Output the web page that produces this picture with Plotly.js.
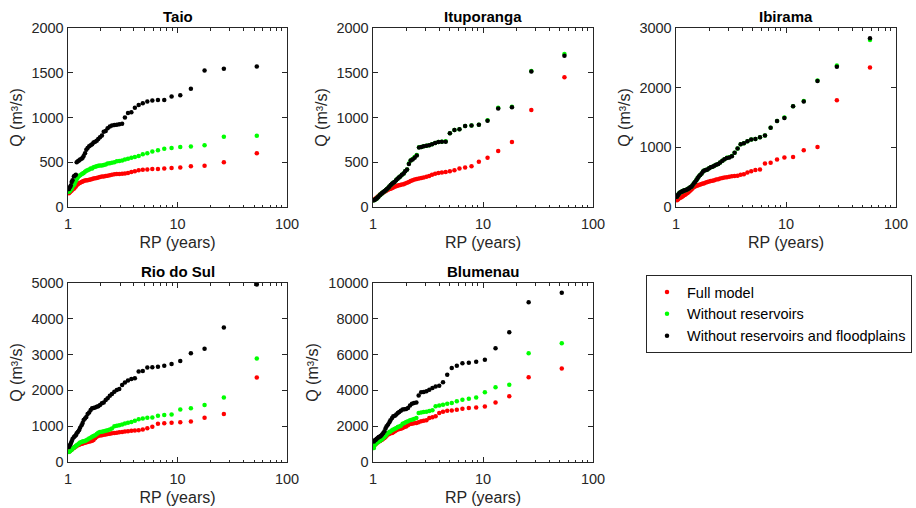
<!DOCTYPE html>
<html>
<head>
<meta charset="utf-8">
<script src="https://cdn.plot.ly/plotly-3.0.1.min.js"></script>
<style>html,body{margin:0;padding:0;background:#fff;}#chart{width:916px;height:508px;}</style>
</head>
<body>
<div id="chart"></div>
<script>
// ---- Data: return periods (years) and peak discharge Q (m3/s) ----
const seriesNames = ["Full model", "Without reservoirs", "Without reservoirs and floodplains"];
const stations = ["Taio", "Ituporanga", "Ibirama", "Rio do Sul", "Blumenau"];

const rpTaio = [53,26.5,17.67,13.25,10.6,8.83,7.57,6.63,5.89,5.3,4.82,4.42,4.08,3.79,3.53,3.31,3.12,2.94,2.79,2.65,2.52,2.41,2.3,2.21,2.12,2.04,1.96,1.89,1.83,1.77,1.71,1.66,1.61,1.56,1.51,1.47,1.43,1.39,1.36,1.33,1.29,1.26,1.23,1.2,1.18,1.15,1.13,1.1,1.08,1.06,1.04,1.02];
const taioFull = [600,500,460,455,440,435,430,425,425,420,415,410,400,390,380,375,372,370,368,365,360,355,350,345,342,340,335,330,325,320,318,312,308,305,300,298,295,290,285,280,272,265,255,245,230,215,205,195,185,175,165,155];
const taioNoRes = [795,785,690,675,670,660,650,635,620,600,590,570,560,550,540,530,520,515,510,500,495,490,485,475,470,465,463,460,455,450,445,430,430,420,410,405,395,380,375,365,355,345,330,310,290,260,245,225,205,195,180,170];
const taioNoResFp = [1570,1545,1525,1320,1250,1235,1195,1195,1190,1180,1160,1140,1110,1060,1050,1000,930,925,920,915,910,900,880,850,840,800,780,760,740,730,720,700,690,680,660,640,600,570,550,540,530,520,510,500,360,350,340,300,280,240,220,200];

const rpItuporanga = [55,27.5,18.33,13.75,11,9.17,7.86,6.88,6.11,5.5,5,4.58,4.23,3.93,3.67,3.44,3.24,3.06,2.89,2.75,2.62,2.5,2.39,2.29,2.2,2.12,2.04,1.96,1.9,1.83,1.77,1.72,1.67,1.62,1.57,1.53,1.49,1.45,1.41,1.38,1.34,1.31,1.28,1.25,1.22,1.2,1.17,1.15,1.12,1.1,1.08,1.06,1.04,1.02];
const ituFull = [1450,1085,725,625,550,505,455,440,430,410,400,390,385,380,372,360,345,338,330,325,318,312,306,300,290,280,270,262,255,250,245,242,238,233,225,218,212,205,200,195,188,180,172,165,158,150,142,132,122,112,104,95,88,78];
const ituNoRes = [1710,1520,1120,1110,970,920,910,905,870,860,825,735,730,725,715,700,690,685,680,670,668,580,560,535,520,485,420,400,375,360,340,330,315,300,280,270,260,245,230,215,200,190,180,170,160,150,140,130,115,105,95,90,80,75];
const ituNoResFp = [1690,1515,1115,1100,965,920,910,905,870,860,825,730,730,725,715,700,690,685,680,670,665,575,550,530,520,480,420,400,375,360,340,330,315,300,280,270,260,245,230,215,200,190,180,170,160,150,140,130,115,105,95,90,80,75];

const rpIbirama = [58,29,19.33,14.5,11.6,9.67,8.29,7.25,6.44,5.8,5.27,4.83,4.46,4.14,3.87,3.63,3.41,3.22,3.05,2.9,2.76,2.64,2.52,2.42,2.32,2.23,2.15,2.07,2,1.93,1.87,1.81,1.76,1.71,1.66,1.61,1.57,1.53,1.49,1.45,1.41,1.38,1.35,1.32,1.29,1.26,1.23,1.21,1.18,1.16,1.14,1.12,1.09,1.07,1.05,1.04,1.02];
const ibiFull = [2340,1790,1005,950,840,830,795,740,730,630,620,600,580,550,540,525,520,515,505,500,495,485,478,465,460,450,442,435,428,418,410,400,392,385,375,368,362,355,345,330,310,295,275,258,245,230,218,205,195,185,175,165,155,145,135,125,115];
const ibiNoRes = [2800,2370,2120,1775,1690,1500,1440,1330,1200,1170,1140,1130,1100,1070,1050,980,910,855,835,825,800,775,745,720,710,690,675,665,650,630,620,610,595,560,535,510,480,450,420,395,360,340,330,315,305,295,285,280,275,270,260,255,245,230,210,195,170];
const ibiNoResFp = [2830,2350,2110,1770,1690,1490,1440,1330,1200,1170,1140,1130,1100,1070,1050,980,910,850,830,820,800,775,745,720,710,690,675,665,650,630,620,610,595,560,535,510,480,450,420,395,360,340,330,315,305,295,285,280,275,270,260,255,245,230,210,195,170];

const rpRioDoSul = [53,26.5,17.67,13.25,10.6,8.83,7.57,6.63,5.89,5.3,4.82,4.42,4.08,3.79,3.53,3.31,3.12,2.94,2.79,2.65,2.52,2.41,2.3,2.21,2.12,2.04,1.96,1.89,1.83,1.77,1.71,1.66,1.61,1.56,1.51,1.47,1.43,1.39,1.36,1.33,1.29,1.26,1.23,1.2,1.18,1.15,1.13,1.1,1.08,1.06,1.04,1.02];
const rioFull = [2360,1340,1235,1130,1110,1095,1080,1070,985,940,910,890,880,870,860,850,840,830,820,810,800,790,780,770,760,750,740,730,705,660,615,595,580,570,560,550,540,530,520,510,495,480,470,455,430,410,390,370,350,330,310,290];
const rioNoRes = [2890,1800,1590,1500,1465,1330,1310,1290,1245,1235,1215,1195,1150,1120,1095,1075,1050,1030,1010,1000,935,905,890,870,860,845,835,815,780,750,725,705,675,655,630,610,590,580,570,560,545,520,490,470,445,420,395,375,345,325,300,280];
const rioNoResFp = [4960,3760,3160,3040,2820,2740,2690,2660,2650,2640,2540,2530,2340,2320,2280,2220,2150,2040,2010,1960,1900,1850,1780,1730,1660,1640,1590,1560,1540,1525,1510,1500,1450,1380,1340,1260,1215,1170,1090,1030,960,890,840,800,750,720,690,640,580,520,470,420];

const rpBlumenau = [52,26,17.33,13,10.4,8.67,7.43,6.5,5.78,5.2,4.73,4.33,4,3.71,3.47,3.25,3.06,2.89,2.74,2.6,2.48,2.36,2.26,2.17,2.08,2,1.93,1.86,1.79,1.73,1.68,1.63,1.58,1.53,1.49,1.44,1.41,1.37,1.33,1.3,1.27,1.24,1.21,1.18,1.16,1.13,1.11,1.08,1.06,1.04,1.02];
const bluFull = [5230,4740,3670,3330,3100,3050,3020,2980,2920,2880,2860,2810,2740,2550,2500,2460,2330,2310,2270,2220,2180,2160,2140,2120,2050,1990,1960,1900,1860,1840,1810,1770,1720,1660,1620,1600,1580,1530,1470,1400,1340,1300,1250,1210,1170,1140,1100,1060,1010,970,910];
const bluNoRes = [6630,6080,4310,4170,3890,3610,3540,3480,3390,3300,3260,3200,3150,3110,2890,2850,2810,2790,2770,2740,2460,2400,2360,2330,2270,2230,2180,2140,2030,1990,1960,1900,1860,1810,1770,1710,1680,1620,1530,1470,1400,1340,1290,1230,1190,1160,1120,1060,1000,960,780];
const bluNoResFp = [9450,8920,7250,6350,5710,5600,5550,5520,5380,5250,4870,4450,4260,4220,4130,4040,3950,3910,3890,3720,3330,3300,3260,3150,3010,2960,2950,2930,2870,2800,2740,2650,2590,2550,2460,2330,2220,2090,2000,1870,1720,1620,1530,1470,1430,1400,1360,1300,1250,1210,1150];

const yMax = [2000, 2000, 3000, 5000, 10000];
const yStep = [500, 500, 1000, 1000, 2000];

// ---- Build ----
const panels = [
  {rp: rpTaio, s: [taioFull, taioNoRes, taioNoResFp]},
  {rp: rpItuporanga, s: [ituFull, ituNoRes, ituNoResFp]},
  {rp: rpIbirama, s: [ibiFull, ibiNoRes, ibiNoResFp]},
  {rp: rpRioDoSul, s: [rioFull, rioNoRes, rioNoResFp]},
  {rp: rpBlumenau, s: [bluFull, bluNoRes, bluNoResFp]}
];
const colors = ["#ff0000", "#00ff00", "#000000"];
const W = 916, H = 508;
// plot-area boxes in pixels [left, right, top, bottom]
const boxes = [[68,287,28,207],[373,593,28,207],[676,896,28,207],[68,287,283,462],[373,593,283,462]];
const FONT = "Liberation Sans, Arial, Helvetica, sans-serif";
const INK = "#262626";

const traces = [];
panels.forEach((p, i) => {
  const sfx = i === 0 ? "" : String(i + 1);
  p.s.forEach((vals, k) => {
    traces.push({
      type: "scatter", mode: "markers",
      x: p.rp, y: vals,
      name: seriesNames[k],
      legendgroup: seriesNames[k],
      showlegend: i === 0,
      marker: {color: colors[k], size: 4.5, line: {width: 0}},
      xaxis: "x" + sfx, yaxis: "y" + sfx,
      hoverinfo: "x+y+name"
    });
  });
});

const layout = {
  width: W, height: H,
  margin: {l: 0, r: 0, t: 0, b: 0},
  paper_bgcolor: "#fff", plot_bgcolor: "#fff",
  font: {family: FONT, color: INK, size: 14},
  showlegend: true,
  legend: {
    x: 646 / W, y: 1 - 275 / H, xanchor: "left", yanchor: "top",
    bordercolor: INK, borderwidth: 1, bgcolor: "#fff",
    font: {family: FONT, size: 14.5, color: "#000"},
    tracegroupgap: 0
  },
  annotations: []
};

boxes.forEach((b, i) => {
  const sfx = i === 0 ? "" : String(i + 1);
  const common = {
    showline: true, linecolor: INK, linewidth: 1.4, mirror: "ticks",
    ticks: "inside", ticklen: 5, tickcolor: INK, tickwidth: 1,
    showgrid: false, zeroline: false,
    tickfont: {family: FONT, size: 14.5, color: INK}
  };
  layout["xaxis" + sfx] = Object.assign({}, common, {
    type: "log", range: [0, 2], dtick: 1,
    domain: [b[0] / W, b[1] / W],
    anchor: "y" + sfx,
    ticklabelstandoff: 3,
    minor: {ticks: "inside", ticklen: 2.5, tickcolor: INK, showgrid: false},
    title: {text: "RP (years)", font: {family: FONT, size: 16, color: INK}, standoff: 6}
  });
  layout["yaxis" + sfx] = Object.assign({}, common, {
    range: [0, yMax[i]], dtick: yStep[i], tickformat: "d",
    domain: [1 - b[3] / H, 1 - b[2] / H],
    anchor: "x" + sfx,
    title: {text: "Q (m³/s)", font: {family: FONT, size: 16, color: INK}, standoff: 5}
  });
  layout.annotations.push({
    text: "<b>" + stations[i] + "</b>",
    xref: "paper", yref: "paper",
    x: (b[0] + b[1]) / 2 / W, y: 1 - (b[2] - 11.5) / H,
    xanchor: "center", yanchor: "middle", showarrow: false,
    font: {family: FONT, size: 15, color: "#000"}
  });
});

Plotly.newPlot("chart", traces, layout, {displayModeBar: false, staticPlot: true});
</script>
</body>
</html>
